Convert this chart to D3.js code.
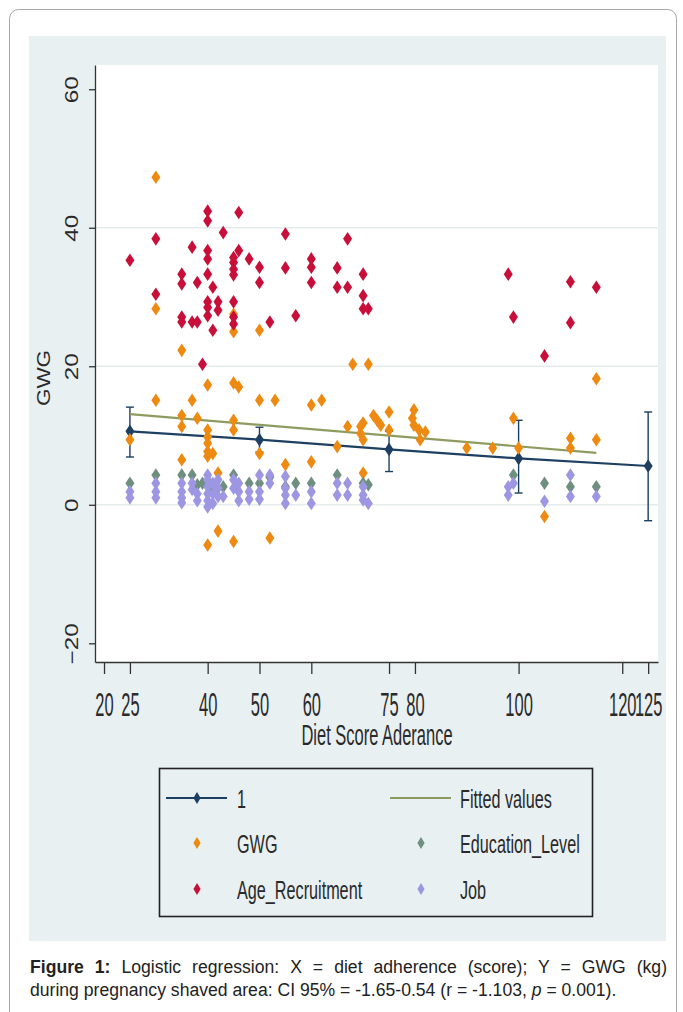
<!DOCTYPE html>
<html><head><meta charset="utf-8">
<script src="https://cdn.jsdelivr.net/npm/d3@7"></script>
<style>
body{margin:0;background:#fff;}
#wrap{position:relative;width:683px;height:1012px;overflow:hidden;}
.cap{position:absolute;left:30px;width:637px;font-family:"Liberation Sans",Arial,sans-serif;font-size:17.6px;line-height:21px;color:#222;white-space:nowrap;}
#cap1{top:957px;text-align:justify;text-align-last:justify;}
#cap2{top:980px;text-align:left;}
</style></head>
<body><div id="wrap"><svg id="chart" width="683" height="1012"></svg>
<div class="cap" id="cap1"><b>Figure 1:</b> Logistic regression: X = diet adherence (score); Y = GWG (kg)</div>
<div class="cap" id="cap2">during pregnancy shaved area: CI 95% = -1.65-0.54 (r = -1.103, <i>p</i> = 0.001).</div></div>
<script>
const xTicks = [20,25,40,50,60,75,80,100,120,125];
const yTicks = [-20,0,20,40,60];
const gridVals = [0,20,40];
const xTitle = "Diet Score Aderance";
const yTitle = "GWG";

const meanX = [25,50,75,100,125];
const meanY = [10.6,9.4,8.0,6.7,5.6];
const ciLo  = [6.9,7.6,4.8,1.7,-2.3];
const ciHi  = [14.1,11.2,10.6,12.2,13.4];
const fitX = [25,115];
const fitY = [13.1,7.5];

const gwgX = [30,30,35,45,45,50,30,37,40,45,46,50,53,60,62,35,35,38,40,40,40,40,40,41,45,45,50,25,35,42,55,60,65,40,42,45,52,68,71,115,72,72.7,73.4,75,75,79.8,79.5,79.8,80.8,82,81,67,69.5,70,69.5,70,90,95,99,100,110,110,115,105,70];
const gwgY = [47.3,28.3,22.3,27.5,25,25.2,15.1,15.1,17.3,17.6,17.0,15.1,15.1,14.4,15.1,12.9,11.3,12.5,10.8,9.8,8.9,7.7,7.0,7.4,12.2,10.8,7.4,9.4,6.5,4.6,5.8,6.2,8.4,-5.8,-3.8,-5.3,-4.8,20.3,20.3,18.2,12.9,12.2,11.5,13.4,10.8,13.7,12.5,11.5,10.8,10.5,9.4,11.3,11.3,11.8,10.3,9.4,8.2,8.2,12.5,8.2,9.6,8.2,9.4,-1.7,4.6];

const eduX = [25,30,35,37,38,39,41,43,45,48,50,52,55,57,60,65,70,71,99,105,110,115];
const eduY = [3.1,4.3,4.3,4.3,2.9,3.1,2.4,2.6,4.3,3.1,3.1,4.0,2.6,3.1,3.1,4.3,3.1,2.9,4.3,3.1,2.6,2.6];

const ageX = [25,30,30,35,35,35,35,37,37,38,38,40,40,40,40,40,40,40,40,41,41,42,42,43,45,45,45,45,46,46,45,45,45,48,50,50,52,55,55,57,60,60,60,65,65,67,67,70,70,70,71,98,99,105,110,110,115,39];
const ageY = [35.3,38.4,30.4,33.3,31.9,27.1,26.4,37.2,26.4,26.4,32.1,42.4,41.0,36.7,35.5,33.3,29.3,28.5,27.3,31.4,25.2,29.3,28.1,39.3,35.7,35.0,34.0,33.2,42.2,36.7,29.3,27.1,26.1,35.5,34.3,32.1,26.4,39.1,34.2,27.3,35.5,34.3,32.1,34.2,31.4,38.4,31.4,33.3,30.2,28.3,28.3,33.3,27.1,21.5,32.2,26.3,31.4,20.3];

const jobX = [25,25,30,30,30,35,35,35,35,37,37,38,38,40,40,40,40,40,40,41,41,41,42,42,42,43,45,45,46,46,46,48,48,50,50,50,52,52,55,55,55,55,57,60,60,65,65,67,67,70,70,70,71,98,98,99,105,110,110,115];
const jobY = [1.9,1.0,3.1,1.9,1.0,3.1,1.9,1.0,0.3,3.1,2.2,1.6,0.6,4.3,3.6,2.6,1.6,0.6,-0.3,3.1,1.6,0.2,3.6,2.4,1.2,1.2,3.6,2.4,3.1,1.9,0.6,1.9,0.8,4.3,1.9,0.8,4.3,3.1,4.1,2.4,1.4,0.2,1.4,1.9,0.2,3.1,1.4,3.1,1.4,2.6,1.4,0.7,0.2,2.6,1.4,3.1,0.5,4.3,1.2,1.2];

const C = {navy:"#1d3f62", fit:"#8e9b5f", gwg:"#ee8a12", edu:"#6f8f80", age:"#c80f3a", job:"#9d97e3", panel:"#e9f0f2"};
const FONT = '"Liberation Sans", Arial, sans-serif';

const svg = d3.select("#chart");
svg.append("rect").attr("x",9.5).attr("y",9.5).attr("width",667).attr("height",1040).attr("rx",9)
  .attr("fill","#fff").attr("stroke","#a8a8a8").attr("stroke-width",1);
svg.append("rect").attr("x",29).attr("y",36).attr("width",637).attr("height",905).attr("fill",C.panel);

const L = 95, R = 658, T = 65, B = 662;
svg.append("rect").attr("x",L).attr("y",T).attr("width",R-L).attr("height",B-T).attr("fill","#fff");

const x = d3.scaleLinear().domain([18.26,126.9]).range([L,R]);
const y = d3.scaleLinear().domain([-22.7,63.5]).range([B,T]);

svg.append("g").selectAll("line").data(gridVals).join("line")
  .attr("x1",L).attr("x2",R).attr("y1",d=>y(d)).attr("y2",d=>y(d))
  .attr("stroke","#e6ecec").attr("stroke-width",1.5);

const gx = svg.append("g").attr("transform",`translate(0,${B})`)
  .call(d3.axisBottom(x).tickValues(xTicks).tickSize(12).tickSizeOuter(0).tickFormat(d3.format("d")));
gx.select(".domain").attr("stroke","#333").attr("stroke-width",1.3);
gx.selectAll(".tick line").attr("stroke","#333").attr("stroke-width",1.3);
gx.selectAll(".tick text").attr("y",0).attr("dy",0)
  .attr("transform","translate(0,54) scale(1,2.0)")
  .attr("font-family",FONT).attr("font-size",16.5).attr("fill","#2a2a2a");

const gy = svg.append("g").attr("transform",`translate(${L},0)`)
  .call(d3.axisLeft(y).tickValues(yTicks).tickSize(6).tickSizeOuter(0));
gy.select(".domain").attr("stroke","#333").attr("stroke-width",1.3);
gy.selectAll(".tick line").attr("stroke","#333").attr("stroke-width",1.3);
gy.selectAll(".tick text").attr("x",0).attr("dy",0).attr("text-anchor","middle")
  .attr("transform","translate(-17,0) scale(1,1.35) rotate(-90)")
  .attr("font-family",FONT).attr("font-size",18).attr("fill","#2a2a2a");

svg.append("text").attr("text-anchor","middle").attr("transform",`translate(377,745) scale(1,1.75)`)
  .attr("font-family",FONT).attr("font-size",16.5).attr("fill","#2a2a2a").text(xTitle);
svg.append("text").attr("text-anchor","middle").attr("transform",`translate(50,378) scale(1,1.25) rotate(-90)`)
  .attr("font-family",FONT).attr("font-size",18).attr("fill","#2a2a2a").text(yTitle);

const diamond = (hw,hh) => `M0,${-hh}L${hw},0L0,${hh}L${-hw},0Z`;
const DM = diamond(4.5,6.8);

const ci = svg.append("g").attr("stroke",C.navy).attr("stroke-width",1.4);
meanX.forEach((mx,i)=>{
  ci.append("line").attr("x1",x(mx)).attr("x2",x(mx)).attr("y1",y(ciLo[i])).attr("y2",y(ciHi[i]));
  [ciLo[i],ciHi[i]].forEach(v=>ci.append("line").attr("x1",x(mx)-4).attr("x2",x(mx)+4).attr("y1",y(v)).attr("y2",y(v)));
});
svg.append("path").datum(meanX.map((d,i)=>[d,meanY[i]]))
  .attr("d",d3.line().x(d=>x(d[0])).y(d=>y(d[1]))).attr("fill","none").attr("stroke",C.navy).attr("stroke-width",2.2);
svg.append("path").datum(fitX.map((d,i)=>[d,fitY[i]]))
  .attr("d",d3.line().x(d=>x(d[0])).y(d=>y(d[1]))).attr("fill","none").attr("stroke",C.fit).attr("stroke-width",2.2);
svg.append("g").selectAll("path").data(meanX.map((d,i)=>[d,meanY[i]])).join("path")
  .attr("d",DM).attr("transform",d=>`translate(${x(d[0])},${y(d[1])})`).attr("fill",C.navy);

function scatter(xs,ys,col){
  svg.append("g").selectAll("path").data(xs.map((d,i)=>[d,ys[i]])).join("path")
    .attr("d",DM).attr("transform",d=>`translate(${x(d[0])},${y(d[1])})`).attr("fill",col);
}
scatter(gwgX,gwgY,C.gwg);
scatter(eduX,eduY,C.edu);
scatter(ageX,ageY,C.age);
scatter(jobX,jobY,C.job);

const lg = svg.append("g");
lg.append("rect").attr("x",159.5).attr("y",768.5).attr("width",433).attr("height",148)
  .attr("fill",C.panel).attr("stroke","#222").attr("stroke-width",1.6);
const legendItems = [
  {label:"1", col:C.navy, kind:"line+marker", cx:197, lx:237, cy:798},
  {label:"Fitted values", col:C.fit, kind:"line", cx:421, lx:460, cy:798},
  {label:"GWG", col:C.gwg, kind:"marker", cx:197, lx:237, cy:843},
  {label:"Education_Level", col:C.edu, kind:"marker", cx:421, lx:460, cy:843},
  {label:"Age_Recruitment", col:C.age, kind:"marker", cx:197, lx:237, cy:889},
  {label:"Job", col:C.job, kind:"marker", cx:421, lx:460, cy:889}
];
legendItems.forEach(it=>{
  if(it.kind.startsWith("line")) lg.append("line").attr("x1",it.cx-31).attr("x2",it.cx+30).attr("y1",it.cy).attr("y2",it.cy)
    .attr("stroke",it.col).attr("stroke-width",2.2);
  if(it.kind.endsWith("marker")) lg.append("path").attr("d",diamond(3.6,6)).attr("transform",`translate(${it.cx},${it.cy})`).attr("fill",it.col);
  lg.append("text").attr("transform",`translate(${it.lx},${it.cy+9.5}) scale(1,1.6)`)
    .attr("font-family",FONT).attr("font-size",16.2).attr("fill","#2a2a2a").text(it.label);
});
</script></body></html>
